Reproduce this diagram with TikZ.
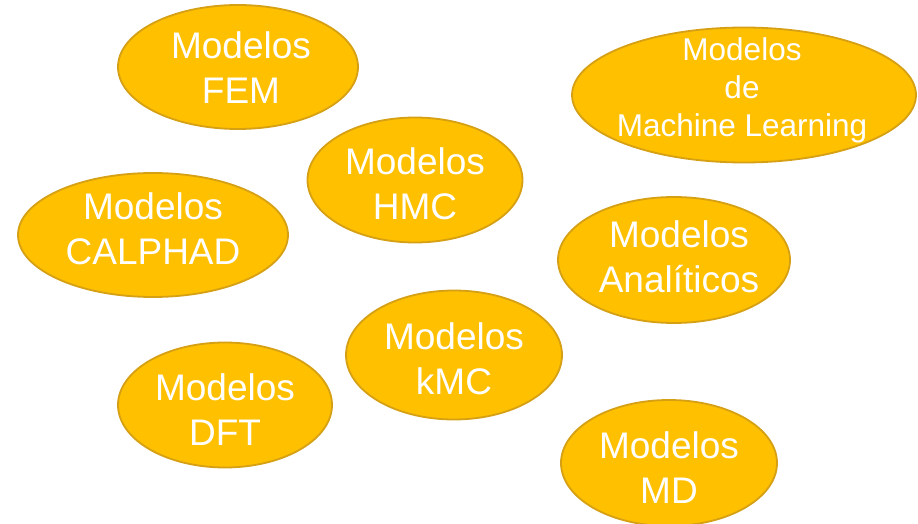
\documentclass[tikz,border=0pt]{standalone}
\usepackage{fontspec}
\setmainfont{Liberation Sans}
\usetikzlibrary{shapes.geometric}
\definecolor{gold}{HTML}{FFC000}
\definecolor{goldedge}{HTML}{D6A014}
\tikzset{
  bubble/.style={ellipse, fill=gold, draw=goldedge, line width=1.8pt, inner sep=0pt},
  caption/.style={text=white, align=center, inner sep=0pt, font=\fontsize{37}{45}\selectfont},
  smallcaption/.style={caption, font=\fontsize{31.5}{38}\selectfont},
}
\begin{document}
\begin{tikzpicture}[x=1pt,y=-1pt]
\useasboundingbox (0,0) rectangle (918,524);
\begin{scope}
\clip (0,0) rectangle (918,524);
% model families, one ellipse each
\node[bubble, minimum width=240pt, minimum height=124pt] (fem) at (238,67) {};
\node[caption] (femtxt) at ([xshift=3pt,yshift=-1pt]fem.center) {Modelos\\FEM};

\node[bubble, minimum width=344pt, minimum height=135pt] (ml) at (744,95) {};
\node[smallcaption] (mltxt) at ([xshift=-2pt,yshift=5pt]ml.center) {Modelos\\de\\Machine Learning};

\node[bubble, minimum width=215pt, minimum height=125pt] (hmc) at (415,180) {};
\node[caption] (hmctxt) at ([yshift=-4pt]hmc.center) {Modelos\\HMC};

\node[bubble, minimum width=270pt, minimum height=124pt] (calphad) at (153,235) {};
\node[caption] (calphadtxt) at ([yshift=6pt]calphad.center) {Modelos\\CALPHAD};

\node[bubble, minimum width=232pt, minimum height=126pt] (ana) at (674,260) {};
\node[caption] (anatxt) at ([xshift=5pt,yshift=3pt]ana.center) {Modelos\\Analíticos};

\node[bubble, minimum width=216pt, minimum height=129pt] (kmc) at (454,355) {};
\node[caption] (kmctxt) at ([yshift=-3.5pt]kmc.center) {Modelos\\kMC};

\node[bubble, minimum width=214pt, minimum height=125pt] (dft) at (225,405) {};
\node[caption] (dfttxt) at ([yshift=-5pt]dft.center) {Modelos\\DFT};

\node[bubble, minimum width=216pt, minimum height=126pt] (md) at (669,463) {};
\node[caption] (mdtxt) at ([yshift=-5pt]md.center) {Modelos\\MD};
\end{scope}
\end{tikzpicture}
\end{document}
